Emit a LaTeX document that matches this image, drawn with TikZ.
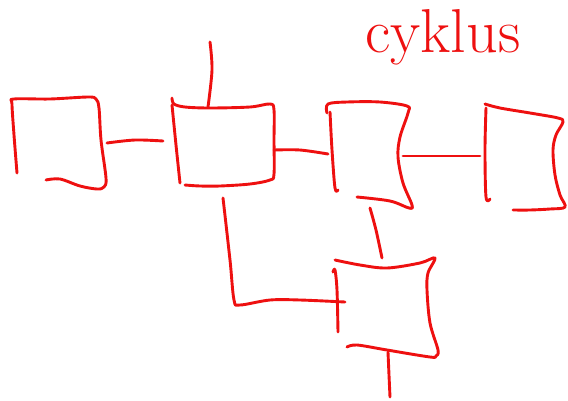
\documentclass[tikz,border=0pt]{standalone}
\begin{document}
\begin{tikzpicture}[x=1pt,y=-1pt,
  ink/.style={draw={rgb,255:red,238;green,16;blue,16},line width=2.9pt,line cap=round,line join=round},
  stroke/.style={ink,smooth,tension=0.55}]
\useasboundingbox[fill=white] (0,0) rectangle (568,400);

% hand-written label
\node[anchor=base,text={rgb,255:red,238;green,16;blue,16},font=\fontsize{62}{62}\selectfont] (lbl) at (443,52) {cyklus};

% box 1
\draw[ink] plot[stroke] coordinates {(17,173) (14,135) (12,104) (14,99) (50,99) (88,97) (96,99) (99,108) (101,140) (106,178) (104,187) (97,189) (80,186) (60,179) (46,180)};

% box 2
\draw[ink] plot[stroke] coordinates {(172,98) (174,104) (185,107) (210,108) (250,107) (270,104) (274,110) (274,140) (274,174) (270,180) (250,184) (220,186) (200,186) (185,185)};
\draw[ink] plot[stroke] coordinates {(172,105) (176,145) (180,183)};

% box 3
\draw[ink] plot[stroke] coordinates {(327,113) (328,104) (347,102) (380,102) (407,106) (408,113) (400,137) (398,157) (403,183) (412,205) (409,208) (390,201) (357,197)};
\draw[ink] plot[stroke] coordinates {(330,112) (332,150) (335,188) (338,190)};

% box 4
\draw[ink] plot[stroke] coordinates {(485,104) (500,108) (530,113) (558,118) (563,122) (556,135) (553,150) (555,175) (560,195) (565,207) (550,209) (530,210) (513,210)};
\draw[ink] plot[stroke] coordinates {(486,108) (485,150) (486,197) (490,199)};

% box 5
\draw[ink] plot[stroke] coordinates {(335,260) (360,265) (387,268) (420,263) (435,258) (428,273) (427,290) (430,323) (438,350) (436,356) (430,357) (387,350) (357,345) (347,347)};
\draw[ink] plot[stroke] coordinates {(333,272) (335,270) (337,290) (338,332)};

% connector end points
\coordinate (c1a) at (107,143);
\coordinate (c1b) at (163,141);
\coordinate (t2a) at (210,42);
\coordinate (t2b) at (208,107);
\coordinate (c2a) at (274,150);
\coordinate (c2b) at (328,154);
\coordinate (c3a) at (403,156);
\coordinate (c3b) at (480,156);
\coordinate (v3a) at (370,208);
\coordinate (v3b) at (382,258);
\coordinate (la) at (223,198);
\coordinate (lb) at (345,302);
\coordinate (v5a) at (388,352);
\coordinate (v5b) at (390,397);

% connectors
\draw[ink] plot[stroke] coordinates {(c1a) (135,140) (c1b)};
\draw[ink] plot[stroke] coordinates {(t2a) (212,70) (t2b)};
\draw[ink] plot[stroke] coordinates {(c2a) (300,150) (c2b)};
\draw[ink] plot[stroke] coordinates {(c3a) (440,156) (c3b)};
\draw[ink] plot[stroke] coordinates {(v3a) (376,230) (v3b)};
\draw[ink] plot[stroke] coordinates {(la) (230,260) (234,300) (240,305) (270,300) (300,300) (lb)};
\draw[ink] plot[stroke] coordinates {(v5a) (389,375) (v5b)};
\end{tikzpicture}
\end{document}
